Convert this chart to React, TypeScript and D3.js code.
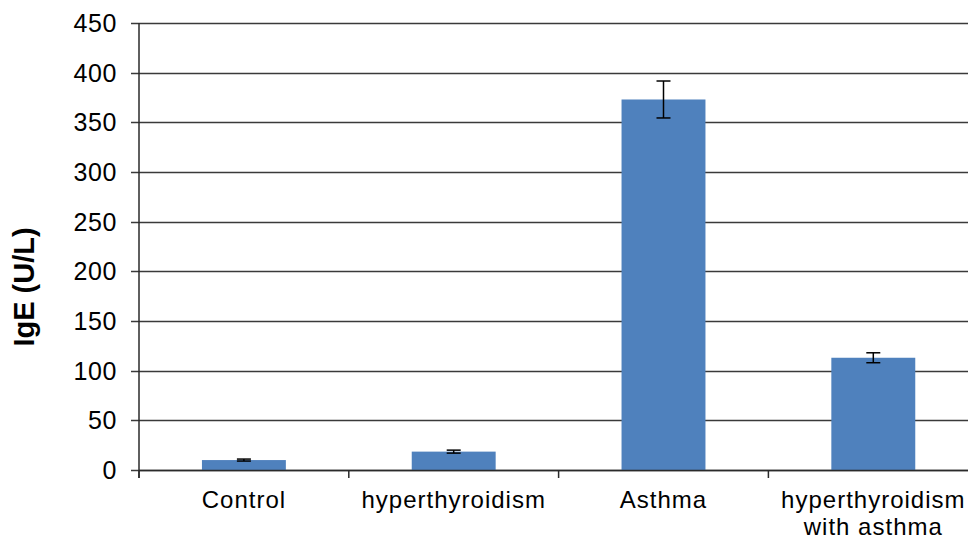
import React from "react";
import * as d3 from "d3";

const categories: string[][] = [
  ["Control"],
  ["hyperthyroidism"],
  ["Asthma"],
  ["hyperthyroidism", "with asthma"],
];
const means: number[] = [10, 18.5, 373, 113];
const errors: number[] = [1, 1.5, 18.6, 5];
const yTicks: number[] = [0, 50, 100, 150, 200, 250, 300, 350, 400, 450];

const W = 968;
const H = 546;
const left = 139;
const right = 978.2;
const top = 23;
const bottom = 470;
const font = "Arial, 'Liberation Sans', sans-serif";

export default function App() {
  const x = d3
    .scaleBand<number>()
    .domain(categories.map((_, i) => i))
    .range([left, right])
    .padding(0);
  const y = d3.scaleLinear().domain([0, 450]).range([bottom, top]);
  const bw = x.bandwidth();
  const barW = bw * 0.4;
  const cap = 7;
  const boundaries = d3.range(categories.length + 1).map((i) => left + i * bw);

  return (
    <svg
      width={W}
      height={H}
      style={{ position: "absolute", left: 0, top: 0, background: "#fff" }}
      fontFamily={font}
    >
      {yTicks.map((t) => (
        <line
          key={"g" + t}
          x1={left - 8}
          x2={W}
          y1={Math.round(y(t)) + 0.5}
          y2={Math.round(y(t)) + 0.5}
          stroke="#3a3a3a"
          strokeWidth={1.3}
        />
      ))}
      {yTicks.map((t) => (
        <text
          key={"l" + t}
          x={117}
          y={y(t)}
          dy="0.36em"
          textAnchor="end"
          fontSize={25}
          letterSpacing={0.6}
          fill="#000"
        >
          {t}
        </text>
      ))}
      {means.map((v, i) => {
        const cx = (x(i) as number) + bw / 2;
        return (
          <rect
            key={"b" + i}
            x={cx - barW / 2}
            y={y(v)}
            width={barW}
            height={y(0) - y(v)}
            fill="#4F81BD"
          />
        );
      })}
      <line x1={left} x2={W} y1={bottom + 0.5} y2={bottom + 0.5} stroke="#2a2a2a" strokeWidth={1.5} />
      {boundaries.map((b, i) => (
        <line
          key={"xt" + i}
          x1={b}
          x2={b}
          y1={bottom}
          y2={bottom + 8}
          stroke="#2a2a2a"
          strokeWidth={1.5}
        />
      ))}
      <line x1={left} x2={left} y1={top} y2={bottom + 8} stroke="#2a2a2a" strokeWidth={1.5} />
      {means.map((v, i) => {
        const cx = (x(i) as number) + bw / 2;
        const hi = y(v + errors[i]);
        const lo = y(v - errors[i]);
        return (
          <g key={"e" + i} stroke="#000" strokeWidth={1.5}>
            <line x1={cx} x2={cx} y1={hi} y2={lo} />
            <line x1={cx - cap} x2={cx + cap} y1={hi} y2={hi} />
            <line x1={cx - cap} x2={cx + cap} y1={lo} y2={lo} />
          </g>
        );
      })}
      {categories.map((lines, i) => {
        const cx = (x(i) as number) + bw / 2;
        return (
          <text key={"c" + i} x={cx} y={508} textAnchor="middle" fontSize={24} letterSpacing={1} fill="#000">
            {lines.map((ln, j) => (
              <tspan key={j} x={cx} dy={j === 0 ? 0 : 27}>
                {ln}
              </tspan>
            ))}
          </text>
        );
      })}
      <text
        transform={`translate(34,287) rotate(-90)`}
        textAnchor="middle"
        fontSize={29}
        fontWeight="bold"
        fill="#000"
      >
        IgE (U/L)
      </text>
    </svg>
  );
}
